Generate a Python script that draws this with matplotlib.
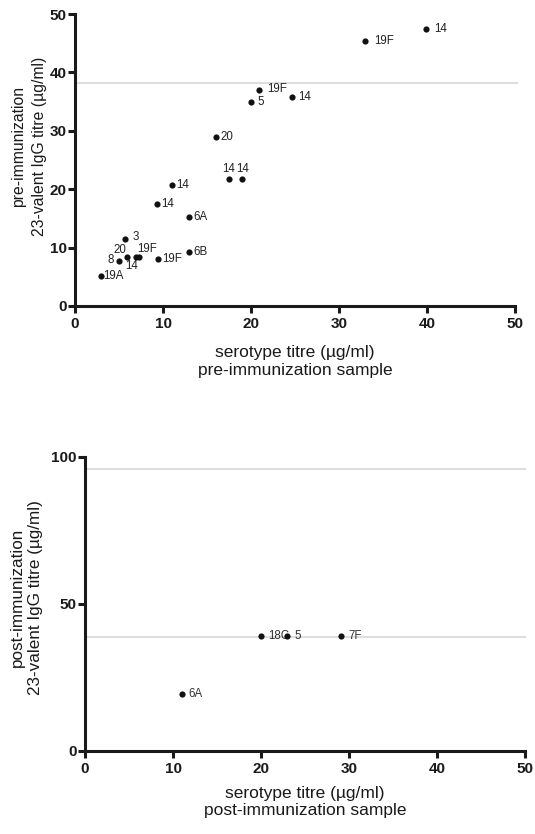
import matplotlib
matplotlib.use("Agg")
import matplotlib.pyplot as plt

plt.rcParams["font.family"] = ["Liberation Sans", "DejaVu Sans"]

# ---- pre-immunization sample ----
pre_x = [39.9, 33.0, 20.9, 24.7, 20.0, 16.0, 17.5, 19.0, 11.0, 9.3,
         13.0, 5.7, 13.0, 5.9, 6.9, 7.3, 5.0, 9.4, 2.9]
pre_y = [47.5, 45.3, 37.0, 35.8, 34.9, 28.9, 21.7, 21.7, 20.7, 17.5,
         15.2, 11.4, 9.2, 8.4, 8.4, 8.4, 7.7, 8.1, 5.2]
pre_lab = ["14", "19F", "19F", "14", "5", "20", "14", "14", "14", "14",
           "6A", "3", "6B", "20", "14", "19F", "8", "19F", "19A"]
pre_ref = [38.2]

# ---- post-immunization sample ----
post_x = [11.0, 20.0, 23.0, 29.1]
post_y = [19.2, 38.9, 38.9, 38.9]
post_lab = ["6A", "18C", "5", "7F"]
post_ref = [38.6, 95.9]

# label offsets in points (dx, dy, ha, va), dy positive = up
pre_off = [(6, 0, "left", "center"), (6, 0, "left", "center"),
           (6, 1, "left", "center"), (4, 0, "left", "center"),
           (5, 0, "left", "center"), (3, 0, "left", "center"),
           (0, 3, "center", "bottom"), (0, 3, "center", "bottom"),
           (3, 0, "left", "center"), (3, 0, "left", "center"),
           (3, 0, "left", "center"), (5, 2, "left", "center"),
           (3, 0, "left", "center"), (-5, 5, "center", "center"),
           (-3, -6.5, "center", "center"), (6, 5.5, "center", "center"),
           (-4, 1, "right", "center"), (3, 0, "left", "center"),
           (2, 0, "left", "center")]
post_off = [(5, 0, "left", "center")] * 4

fig = plt.figure(figsize=(5.35, 8.34), dpi=100)
ax1 = fig.add_axes([0.1402, 0.6331, 0.8224, 0.3501])
ax2 = fig.add_axes([0.1589, 0.0999, 0.8224, 0.3525])


def style(ax, ymax, yticks):
    ax.set_xlim(0, 50)
    ax.set_ylim(0, ymax)
    ax.set_xticks([0, 10, 20, 30, 40, 50])
    ax.set_yticks(yticks)
    for s in ["top", "right"]:
        ax.spines[s].set_visible(False)
    for s in ["left", "bottom"]:
        ax.spines[s].set_linewidth(2.2)
        ax.spines[s].set_color("#1a1a1a")
        ax.spines[s].set_capstyle("projecting")
    ax.tick_params(direction="out", length=5, width=2.2, color="#1a1a1a",
                   labelsize=11)
    ax.tick_params(axis="y", pad=1)
    ax.tick_params(axis="x", pad=3)
    for t in ax.get_xticklabels() + ax.get_yticklabels():
        t.set_fontweight("bold")
        t.set_color("#1a1a1a")
    ax.set_facecolor("none")


style(ax1, 50, [0, 10, 20, 30, 40, 50])
style(ax2, 100, [0, 50, 100])

for r in pre_ref:
    ax1.axhline(r, xmin=0.005, xmax=1.005, color="#dedede", lw=1.5,
                zorder=0, clip_on=False)
for r in post_ref:
    ax2.axhline(r, xmin=0.005, xmax=1.0, color="#dedede", lw=1.5,
                zorder=0, clip_on=False)

ax1.scatter(pre_x, pre_y, s=20, color="#111111", zorder=3, linewidths=0)
for x, y, t, (dx, dy, ha, va) in zip(pre_x, pre_y, pre_lab, pre_off):
    ax1.annotate(t, (x, y), xytext=(dx, dy), textcoords="offset points",
                 ha=ha, va=va, fontsize=8.3, color="#222222", zorder=2)

ax2.scatter(post_x, post_y, s=20, color="#111111", zorder=3, linewidths=0)
for x, y, t, (dx, dy, ha, va) in zip(post_x, post_y, post_lab, post_off):
    ax2.annotate(t, (x, y), xytext=(dx, dy), textcoords="offset points",
                 ha=ha, va=va, fontsize=8.3, color="#333333", zorder=2)

xlab_kw = dict(fontsize=12.5, color="#1a1a1a", linespacing=1.2)

ax1.set_xlabel("serotype titre (µg/ml)\npre-immunization sample", va="top",
               **xlab_kw)
ax1.xaxis.set_label_coords(0.5, -0.135)
ax1.set_ylabel("pre-immunization\n23-valent IgG titre (µg/ml)", fontsize=11.3,
               color="#1a1a1a", linespacing=1.5)
ax1.yaxis.set_label_coords(-0.064, 0.548)

ax2.set_xlabel("serotype titre (µg/ml)\npost-immunization sample", va="top",
               **xlab_kw)
ax2.xaxis.set_label_coords(0.5, -0.12)
ax2.set_ylabel("post-immunization\n23-valent IgG titre (µg/ml)", fontsize=12.3,
               color="#1a1a1a", linespacing=1.3)
ax2.yaxis.set_label_coords(-0.095, 0.52)

fig.savefig("out.png", dpi=100)
